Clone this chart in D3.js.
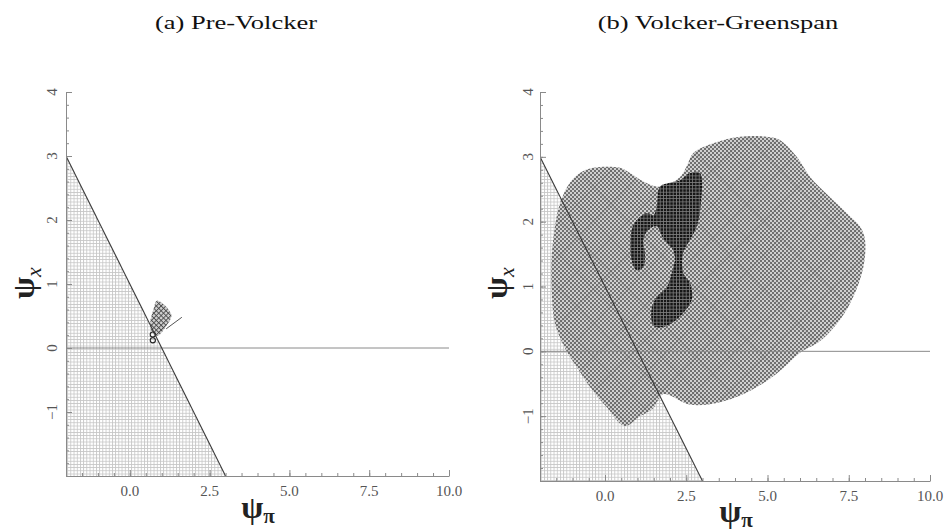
<!DOCTYPE html>
<html>
<head>
<meta charset="utf-8">
<script src="https://cdn.jsdelivr.net/npm/d3@7"></script>
<style>
  body { margin: 0; background: #fff; }
  svg { display: block; }
  text { font-family: "Liberation Serif", "Times New Roman", serif; }
</style>
</head>
<body>
<svg id="chart" width="949" height="532"></svg>
<script>
// ---- data (psi_pi, psi_x) ----
const titles = ["(a) Pre-Volcker", "(b) Volcker-Greenspan"];
const xTicks = [0, 2.5, 5, 7.5, 10];
const yTicks = [-1, 0, 1, 2, 3, 4];
const xMinor = [-2, -1.5, -1, -0.5, 0, 0.5, 1, 1.5, 2, 2.5, 3, 3.5, 4, 4.5, 5, 5.5, 6, 6.5, 7, 7.5, 8, 8.5, 9, 9.5, 10];
const yMinor = [-2, -1.8, -1.6, -1.4, -1.2, -1, -0.8, -0.6, -0.4, -0.2, 0, 0.2, 0.4, 0.6, 0.8, 1, 1.2, 1.4, 1.6, 1.8, 2, 2.2, 2.4, 2.6, 2.8, 3, 3.2, 3.4, 3.6, 3.8, 4];

// psi_x = 1 - psi_pi boundary and the shaded indeterminacy region below it
const detBoundary = [[-2, 3], [3, -2]];
const indetRegion = [[-2, -2], [-2, 3], [3, -2]];
const zeroLine = [[-2, 0], [10, 0]];

// (a) pre-Volcker posterior region
const preVolckerPatch = [[0.85, 0.74], [1.3, 0.52], [1.12, 0.33], [0.86, 0.19], [0.68, 0.27], [0.64, 0.4], [0.74, 0.6]];
const preVolckerWhisker = [[1.14, 0.3], [1.63, 0.48]];
const preVolckerMode = [[0.72, 0.12], [0.72, 0.21]];

// (b) Volcker-Greenspan regions
const vgOuter = [
  [-0.77, 2.75], [-0.37, 2.83], [0.46, 2.83], [0.77, 2.75], [1.18, 2.62], [1.69, 2.54],
  [2.31, 2.69], [2.51, 2.85], [2.72, 3.06], [3.33, 3.21], [4.15, 3.31], [4.98, 3.31],
  [5.38, 3.26], [5.9, 3.0], [6.31, 2.69], [6.92, 2.38], [7.44, 2.13], [7.85, 1.92],
  [8.0, 1.72], [7.95, 1.30], [7.64, 0.84], [7.25, 0.5], [6.6, 0.15], [6.0, -0.02],
  [5.5, -0.25], [5.0, -0.45], [4.3, -0.65], [3.4, -0.8], [2.6, -0.82], [1.8, -0.66],
  [1.48, -0.88], [1.08, -1.0], [0.6, -1.15], [0.05, -0.86], [-0.46, -0.55], [-0.87, -0.24],
  [-1.18, 0.0], [-1.54, 0.43], [-1.64, 0.94], [-1.64, 1.45], [-1.54, 1.92], [-1.38, 2.29],
  [-1.08, 2.6]
];
const vgInner = [
  [2.92, 2.75], [2.62, 2.75], [2.31, 2.64], [2.0, 2.6], [1.69, 2.54], [1.59, 2.23],
  [1.49, 2.1], [1.28, 2.13], [0.97, 2.02], [0.82, 1.87], [0.82, 1.40], [0.97, 1.25],
  [1.18, 1.30], [1.23, 1.51], [1.18, 1.72], [1.33, 1.87], [1.59, 1.93], [1.78, 1.75],
  [2.1, 1.56], [2.15, 1.41], [2.05, 1.21], [1.9, 0.99], [1.59, 0.84], [1.43, 0.64],
  [1.49, 0.40], [1.74, 0.37], [2.1, 0.45], [2.41, 0.59], [2.67, 0.79], [2.62, 1.05],
  [2.41, 1.21], [2.4, 1.51], [2.62, 1.72], [2.82, 1.92], [2.94, 2.23]
];

const svg = d3.select("#chart");
const defs = svg.append("defs");

// light square grid (indeterminacy region)
const grid = defs.append("pattern").attr("id", "grid")
  .attr("patternUnits", "userSpaceOnUse").attr("width", 3.2).attr("height", 3.2);
grid.append("rect").attr("width", 3.2).attr("height", 3.2).attr("fill", "#fff");
grid.append("path").attr("d", "M0 0.4H3.2M0.4 0V3.2").attr("stroke", "#c6c6c6").attr("stroke-width", 0.9);

// checker pattern (posterior region)
const checker = defs.append("pattern").attr("id", "checker")
  .attr("patternUnits", "userSpaceOnUse").attr("width", 4).attr("height", 4);
checker.append("rect").attr("width", 4).attr("height", 4).attr("fill", "#d0d0d0");
checker.append("rect").attr("width", 2).attr("height", 2).attr("fill", "#707070");
checker.append("rect").attr("x", 2).attr("y", 2).attr("width", 2).attr("height", 2).attr("fill", "#707070");

// faint diagonal lattice over the posterior region
const diag = defs.append("pattern").attr("id", "diag")
  .attr("patternUnits", "userSpaceOnUse").attr("width", 24).attr("height", 24)
  .attr("patternTransform", "rotate(45)");
diag.append("path").attr("d", "M0 0.5H24M0.5 0V24").attr("stroke", "#444").attr("stroke-width", 0.8).attr("opacity", 0.22);

// dark pattern (high density region)
const dark = defs.append("pattern").attr("id", "dark")
  .attr("patternUnits", "userSpaceOnUse").attr("width", 3.25).attr("height", 3.25);
dark.append("rect").attr("width", 3.25).attr("height", 3.25).attr("fill", "#161616");
dark.append("path").attr("d", "M0 0.4H3.25M0.4 0V3.25").attr("stroke", "#7e7e7e").attr("stroke-width", 0.8);

// crosshatch (pre-Volcker patch)
const hatch = defs.append("pattern").attr("id", "hatch")
  .attr("patternUnits", "userSpaceOnUse").attr("width", 3.4).attr("height", 3.4)
  .attr("patternTransform", "rotate(45)");
hatch.append("rect").attr("width", 3.4).attr("height", 3.4).attr("fill", "#d0d0d0");
hatch.append("path").attr("d", "M0 0.5H3.4M0.5 0V3.4").attr("stroke", "#4a4a4a").attr("stroke-width", 0.9);

const panels = [
  { xr: [66, 449], yr: [476, 92], titleX: 236, ylabX: 57, psiX: [34, 283], psiPi: [258, 518] },
  { xr: [540, 930], yr: [481, 92], titleX: 718, ylabX: 533, psiX: [507, 283], psiPi: [736, 522] }
];

let stretch = 1;

panels.forEach(function(cfg, i) {
  const x = d3.scaleLinear().domain([-2, 10]).range(cfg.xr);
  const y = d3.scaleLinear().domain([-2, 4]).range(cfg.yr);
  const g = svg.append("g");

  defs.append("clipPath").attr("id", "clip" + i)
    .append("rect")
    .attr("x", cfg.xr[0]).attr("y", cfg.yr[1])
    .attr("width", cfg.xr[1] - cfg.xr[0]).attr("height", cfg.yr[0] - cfg.yr[1]);

  const plot = g.append("g").attr("clip-path", `url(#clip${i})`);
  const line = d3.line().x(d => x(d[0])).y(d => y(d[1]));
  const blob = d3.line().x(d => x(d[0])).y(d => y(d[1])).curve(d3.curveCatmullRomClosed.alpha(0.5));

  plot.append("path").datum(indetRegion)
    .attr("d", d => line(d) + "Z")
    .attr("fill", "url(#grid)");

  if (i === 0) {
    plot.append("path").datum(preVolckerPatch)
      .attr("d", blob).attr("fill", "url(#hatch)");
    plot.append("path").datum(preVolckerWhisker)
      .attr("d", line).attr("stroke", "#555").attr("stroke-width", 1).attr("fill", "none");
    plot.selectAll(".mode").data(preVolckerMode).join("circle")
      .attr("cx", d => x(d[0])).attr("cy", d => y(d[1]))
      .attr("r", 2.6).attr("fill", "none").attr("stroke", "#222").attr("stroke-width", 1.1);
  } else {
    plot.append("path").datum(vgOuter).attr("d", blob).attr("fill", "url(#checker)");
    plot.append("path").datum(vgOuter).attr("d", blob).attr("fill", "url(#diag)");
    plot.append("path").datum(vgInner).attr("d", blob).attr("fill", "url(#dark)");
  }

  plot.append("path").datum(zeroLine)
    .attr("d", line).attr("stroke", "#8a8a8a").attr("stroke-width", 1).attr("fill", "none");
  plot.append("path").datum(detBoundary)
    .attr("d", line).attr("stroke", "#3a3a3a").attr("stroke-width", 1.1).attr("fill", "none");

  // axes: ticks pointing inward, labels drawn separately
  const axisStyle = sel => {
    sel.selectAll("path, line").attr("stroke", "#8a8a8a");
    sel.selectAll("text").remove();
  };
  g.append("g").attr("transform", `translate(0,${cfg.yr[0]})`)
    .call(d3.axisBottom(x).tickValues(xMinor).tickSize(-3).tickSizeOuter(0).tickFormat(""))
    .call(axisStyle);
  g.append("g").attr("transform", `translate(0,${cfg.yr[0]})`)
    .call(d3.axisBottom(x).tickValues(xTicks).tickSize(-6).tickSizeOuter(0).tickFormat(""))
    .call(axisStyle).call(s => s.select(".domain").remove());
  g.append("g").attr("transform", `translate(${cfg.xr[0]},0)`)
    .call(d3.axisLeft(y).tickValues(yMinor).tickSize(-3).tickSizeOuter(0).tickFormat(""))
    .call(axisStyle);
  g.append("g").attr("transform", `translate(${cfg.xr[0]},0)`)
    .call(d3.axisLeft(y).tickValues(yTicks).tickSize(-6).tickSizeOuter(0).tickFormat(""))
    .call(axisStyle).call(s => s.select(".domain").remove());

  g.selectAll(".xlab").data(xTicks).join("text")
    .attr("x", d => x(d)).attr("y", cfg.yr[0] + 20)
    .attr("text-anchor", "middle").attr("font-size", 15).attr("fill", "#555")
    .text(d3.format(".1f"));
  g.selectAll(".ylab").data(yTicks).join("text")
    .attr("transform", d => `translate(${cfg.ylabX},${y(d)}) rotate(-90)`)
    .attr("text-anchor", "middle").attr("font-size", 15).attr("fill", "#555")
    .text(d => d < 0 ? "\u2212" + Math.abs(d) : d);

  // axis titles
  const px = g.append("text")
    .attr("transform", `translate(${cfg.psiX[0]},${cfg.psiX[1]}) rotate(-90)`)
    .attr("text-anchor", "middle").attr("font-size", 32).attr("font-weight", "bold").attr("fill", "#222");
  px.append("tspan").text("\u03C8");
  px.append("tspan").attr("font-size", 22).attr("font-style", "italic").attr("font-weight", "normal").attr("dy", 7).text("x");

  const pp = g.append("text")
    .attr("x", cfg.psiPi[0]).attr("y", cfg.psiPi[1])
    .attr("text-anchor", "middle").attr("font-size", 32).attr("font-weight", "bold").attr("fill", "#222");
  pp.append("tspan").text("\u03C8");
  pp.append("tspan").attr("font-size", 21).attr("dy", 5).text("\u03C0");

  const t = g.append("text")
    .attr("x", cfg.titleX).attr("y", 29)
    .attr("text-anchor", "middle").attr("font-size", 19).attr("fill", "#111")
    .text(titles[i]);
  const len = t.node().getComputedTextLength();
  if (i === 0) stretch = 162 / len;
  t.attr("textLength", len * stretch).attr("lengthAdjust", "spacingAndGlyphs");
});
</script>
</body>
</html>
